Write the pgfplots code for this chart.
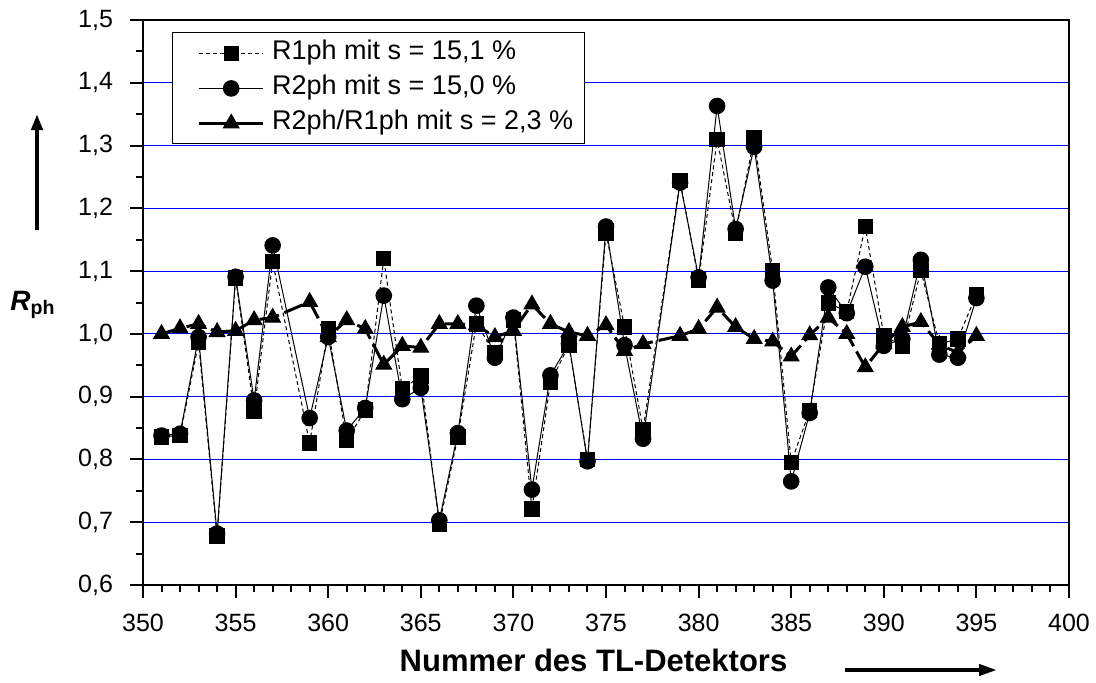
\documentclass[border=0pt]{standalone}
\usepackage{pgfplots}
\pgfplotsset{compat=1.18}
\usepackage{pgfplotstable}
\usepackage{fontspec}
\setmainfont{Liberation Sans}
\usetikzlibrary{arrows.meta}

\pgfplotstableread{
x   r1    r2    q
351 0.836 0.838 1.000
352 0.838 0.841 1.009
353 0.986 0.995 1.016
354 0.678 0.682 1.003
355 1.089 1.091 1.005
356 0.877 0.894 1.022
357 1.115 1.141 1.026
359 0.826 0.866 1.051
360 1.008 0.995 0.995
361 0.830 0.846 1.022
362 0.879 0.882 1.008
363 1.120 1.061 0.951
364 0.912 0.896 0.981
365 0.933 0.914 0.978
366 0.696 0.703 1.016
367 0.836 0.842 1.016
368 1.016 1.045 1.014
369 0.970 0.962 0.995
370 1.022 1.026 1.005
371 0.721 0.752 1.047
372 0.923 0.934 1.016
373 0.982 0.984 1.003
374 0.800 0.797 0.997
375 1.161 1.171 1.014
376 1.011 0.982 0.973
377 0.847 0.833 0.984
379 1.244 1.241 0.997
380 1.086 1.090 1.008
381 1.310 1.363 1.042
382 1.161 1.167 1.011
383 1.312 1.298 0.992
384 1.100 1.085 0.988
385 0.795 0.765 0.964
386 0.878 0.874 0.998
387 1.049 1.074 1.026
388 1.036 1.033 1.000
389 1.171 1.107 0.947
390 0.997 0.981 0.984
391 0.981 0.992 1.011
392 1.101 1.118 1.019
393 0.984 0.967 0.983
394 0.992 0.962 0.970
395 1.063 1.057 0.997
}\data

\begin{document}
\begin{tikzpicture}
\path[use as bounding box] (-71.5pt,-48.5pt) rectangle (476.5pt,292.5pt);
\begin{axis}[
  at={(0pt,0pt)}, anchor=south west,
  scale only axis, width=463pt, height=282.5pt,
  xmin=350, xmax=400, ymin=0.6, ymax=1.5,
  xtick={350,355,...,400}, minor x tick num=4,
  ytick={0.6,0.7,0.8,0.9,1.0,1.1,1.2,1.3,1.4,1.5}, minor y tick num=1,
  tick align=outside, tick pos=left,
  major tick length=6.5pt, minor tick length=3.5pt,
  every tick/.style={black, line width=1pt},
  axis line style={line width=1pt},
  ymajorgrids, major grid style={blue, line width=0.5pt},
  xticklabel shift=4.5pt, yticklabel shift=5pt,
  /pgf/number format/assume math mode=true,
  yticklabel style={/pgf/number format/.cd, use comma, fixed, fixed zerofill, precision=1},
  xticklabel style={/pgf/number format/.cd, fixed, set thousands separator={}},
  tick label style={font=\fontsize{12.5}{15}\selectfont, black},
  legend cell align=left,
  reverse legend,
  legend image code/.code={%
    \path (0pt,0pt);
    \draw[mark repeat=2,mark phase=2,#1] plot coordinates {(8.5pt,0pt)(24.5pt,0pt)(40.5pt,0pt)};
    \path (43pt,0pt);},
  legend style={at={(0.031,0.978)}, anchor=north west, draw=black, line width=0.5pt,
    fill=white, inner xsep=4.25pt, inner ysep=1.5pt, row sep=0pt,
    font=\fontsize{13.5}{16}\selectfont,
    nodes={inner xsep=1.25pt, inner ysep=0pt, text height=12pt, text depth=5.5pt}},
]
\addplot[black, line width=1.5pt, dash pattern=on 10pt off 3pt,
  mark=triangle*, mark size=4.5pt, mark options={solid, fill=black, line width=0.5pt},
  legend image post style={solid}]
  table[x=x, y=q] {\data};
\addlegendentry{R2ph/R1ph mit s = 2,3 \%}
\addplot[black, line width=0.5pt,
  mark=*, mark size=3.9pt, mark options={solid, fill=black}]
  table[x=x, y=r2] {\data};
\addlegendentry{R2ph mit s = 15,0 \%}
\addplot[black, line width=0.5pt, dash pattern=on 2pt off 1.5pt,
  mark=square*, mark size=3.6pt, mark options={solid, fill=black}]
  table[x=x, y=r1] {\data};
\addlegendentry{R1ph mit s = 15,1 \%}
\end{axis}
\node[font=\fontsize{14}{16}\selectfont] at (-55pt,140pt) {\textbf{\textit{R}}\textsubscript{\textbf{ph}}};
\draw[line width=2pt, -{Triangle[length=8pt,width=5.5pt]}] (-53pt,177.5pt) -- (-53pt,235.5pt);
\node[font=\bfseries\fontsize{15.5}{18}\selectfont] at (225.25pt,-37.5pt) {Nummer des TL-Detektors};
\draw[line width=2pt, -{Triangle[length=9pt,width=5.5pt]}] (351pt,-42.5pt) -- (427pt,-42.5pt);
\end{tikzpicture}
\end{document}
